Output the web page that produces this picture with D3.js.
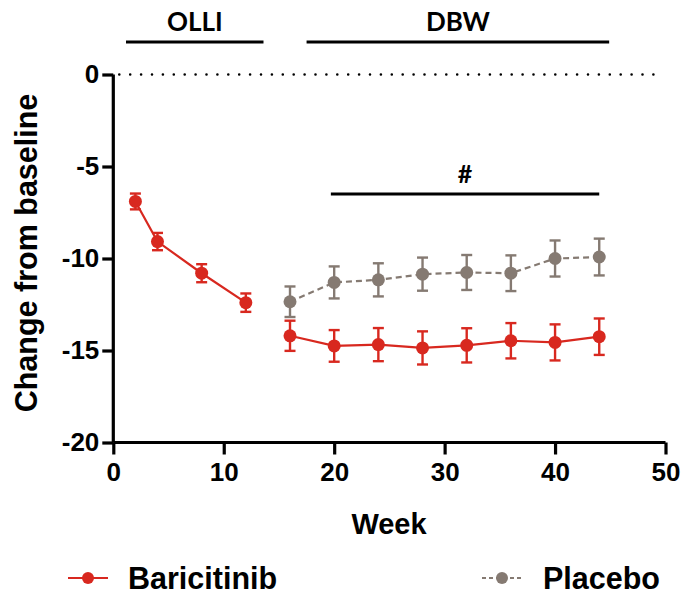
<!DOCTYPE html>
<html><head><meta charset="utf-8">
<script src="https://cdn.jsdelivr.net/npm/d3@7"></script>
<style>body{margin:0;background:#fff}svg{display:block}</style>
</head><body>
<script>
const weeksBari = [2, 4, 8, 12, 16, 20, 24, 28, 32, 36, 40, 44];
const valuesBari = [-6.9, -9.08, -10.8, -12.4, -14.2, -14.75, -14.68, -14.86, -14.72, -14.47, -14.56, -14.25];
const errBari = [0.43, 0.47, 0.49, 0.5, 0.82, 0.86, 0.9, 0.9, 0.93, 0.96, 0.98, 0.99];
const weeksPbo = [16, 20, 24, 28, 32, 36, 40, 44];
const valuesPbo = [-12.35, -11.3, -11.16, -10.85, -10.76, -10.8, -10.0, -9.92];
const errPbo = [0.83, 0.87, 0.9, 0.9, 0.95, 0.97, 0.98, 1.0];
const xTicks = [0, 10, 20, 30, 40, 50];
const yTicks = [0, -5, -10, -15, -20];
const periods = [{label: "OLLI", from: 1.15, to: 13.6}, {label: "DBW", from: 17.5, to: 44.9}];
const sigBar = {label: "#", from: 19.7, to: 44};
const seriesNames = ["Baricitinib", "Placebo"];

const W = 682, H = 594;
const red = "#d8281f", gray = "#857a72";
const svg = d3.select("body").append("svg").attr("width", W).attr("height", H);
const x = d3.scaleLinear().domain([0, 50]).range([113.3, 665.5]);
const y = d3.scaleLinear().domain([-20, 0]).range([442.5, 74.5]);
const tickFont = "'Liberation Sans', Arial, sans-serif";

// zero dotted line
svg.append("line").attr("x1", x(0) + 6).attr("x2", x(49.6)).attr("y1", y(0)).attr("y2", y(0))
  .attr("stroke", "#000").attr("stroke-width", 2.6).attr("stroke-dasharray", "0,10.9").attr("stroke-linecap", "round");

// axes
const xAxis = svg.append("g").attr("transform", `translate(0,${y(-20)})`)
  .call(d3.axisBottom(x).tickValues(xTicks).tickSize(12).tickPadding(4).tickFormat(d3.format("d")));
const yAxis = svg.append("g").attr("transform", `translate(${x(0)},0)`)
  .call(d3.axisLeft(y).tickValues(yTicks).tickSize(11).tickPadding(3).tickFormat(d => d === 0 ? "0" : "-" + Math.abs(d)));
[xAxis, yAxis].forEach(g => {
  g.select(".domain").attr("stroke", "#000").attr("stroke-width", 3.2);
  g.selectAll(".tick line").attr("stroke", "#000").attr("stroke-width", 3.2);
  g.selectAll(".tick text").attr("fill", "#000").attr("font-family", tickFont).attr("font-weight", "bold").attr("font-size", 26);
});
xAxis.select(".domain").attr("d", `M${x(0)},0H${x(50)}`);
yAxis.select(".domain").attr("d", `M0,${y(-20)}V${y(0)}`);
xAxis.selectAll(".tick text").attr("dy", "0.85em");

// axis titles
svg.append("text").attr("x", 389).attr("y", 534).attr("text-anchor", "middle")
  .attr("font-family", tickFont).attr("font-weight", "bold").attr("font-size", 29).text("Week");
svg.append("text").attr("transform", "translate(37,253) rotate(-90)").attr("text-anchor", "middle")
  .attr("font-family", tickFont).attr("font-weight", "bold").attr("font-size", 30.5).text("Change from baseline");

// period brackets
const bracketFont = "Lato, 'Open Sans', sans-serif";
periods.forEach(p => {
  svg.append("line").attr("x1", x(p.from)).attr("x2", x(p.to)).attr("y1", 42).attr("y2", 42)
    .attr("stroke", "#000").attr("stroke-width", 3);
  svg.append("text").attr("x", (x(p.from) + x(p.to)) / 2).attr("y", 31).attr("text-anchor", "middle")
    .attr("font-family", bracketFont).attr("font-weight", "bold").attr("font-size", 26).text(p.label);
});
svg.append("line").attr("x1", x(sigBar.from)).attr("x2", x(sigBar.to)).attr("y1", 194).attr("y2", 194)
  .attr("stroke", "#000").attr("stroke-width", 3);
svg.append("text").attr("x", (x(sigBar.from) + x(sigBar.to)) / 2).attr("y", 183).attr("text-anchor", "middle")
  .attr("font-family", bracketFont).attr("font-weight", "bold").attr("font-size", 25).text(sigBar.label);

function drawSeries(weeks, vals, errs, color, dashed, segments) {
  const g = svg.append("g");
  const line = d3.line().x(d => x(d[0])).y(d => y(d[1]));
  segments.forEach(([a, b]) => {
    const pts = weeks.slice(a, b).map((w, i) => [w, vals[a + i]]);
    g.append("path").attr("d", line(pts)).attr("fill", "none").attr("stroke", color)
      .attr("stroke-width", 2.2).attr("stroke-dasharray", dashed ? "6,4" : null);
  });
  weeks.forEach((w, i) => {
    const cx = x(w), top = y(vals[i] + errs[i]), bot = y(vals[i] - errs[i]);
    g.append("line").attr("x1", cx).attr("x2", cx).attr("y1", top).attr("y2", bot).attr("stroke", color).attr("stroke-width", 2.4);
    [top, bot].forEach(yy => g.append("line").attr("x1", cx - 5.5).attr("x2", cx + 5.5).attr("y1", yy).attr("y2", yy)
      .attr("stroke", color).attr("stroke-width", 2.4));
    g.append("circle").attr("cx", cx).attr("cy", y(vals[i])).attr("r", 6.5).attr("fill", color);
  });
}
drawSeries(weeksPbo, valuesPbo, errPbo, gray, true, [[0, 8]]);
drawSeries(weeksBari, valuesBari, errBari, red, false, [[0, 4], [4, 12]]);

// legend
const legend = [{name: seriesNames[0], color: red, dashed: false, x0: 68, tx: 128},
                {name: seriesNames[1], color: gray, dashed: true, x0: 482, tx: 543}];
legend.forEach(l => {
  svg.append("line").attr("x1", l.x0).attr("x2", l.x0 + 40).attr("y1", 578).attr("y2", 578)
    .attr("stroke", l.color).attr("stroke-width", 2.2).attr("stroke-dasharray", l.dashed ? "4,3" : null);
  svg.append("circle").attr("cx", l.x0 + 20).attr("cy", 578).attr("r", 6).attr("fill", l.color);
  svg.append("text").attr("x", l.tx).attr("y", 589).attr("font-family", tickFont).attr("font-weight", "bold")
    .attr("font-size", 30.5).text(l.name);
});
</script>
</body></html>
